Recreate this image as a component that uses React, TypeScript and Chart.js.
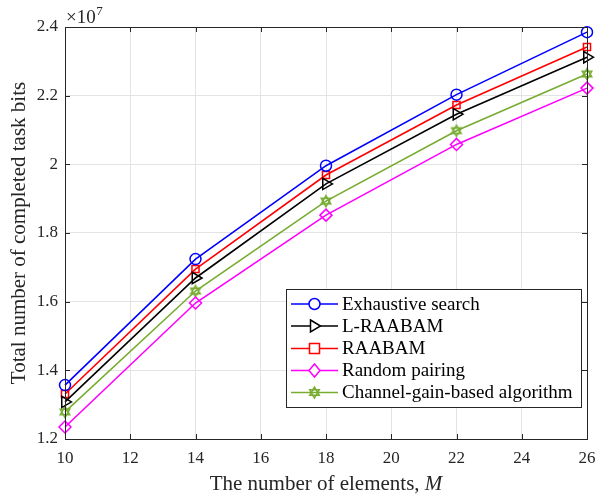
import React, { useEffect, useRef } from "react";
import { Chart, registerables } from "chart.js";
Chart.register(...registerables);

// Data (values in units of 10^7 bits)
const elements = [10, 14, 18, 22, 26];
const exhaustive = [1.357, 1.724, 1.996, 2.203, 2.385];
const lRaabam = [1.308, 1.669, 1.943, 2.146, 2.312];
const raabam = [1.331, 1.695, 1.969, 2.173, 2.342];
const randomPairing = [1.235, 1.596, 1.852, 2.058, 2.222];
const channelGain = [1.279, 1.631, 1.893, 2.098, 2.263];
const seriesNames = [
  "Exhaustive search",
  "L-RAABAM",
  "RAABAM",
  "Random pairing",
  "Channel-gain-based algorithm",
];
const xTickValues = [10, 12, 14, 16, 18, 20, 22, 24, 26];
const yTickValues = [1.2, 1.4, 1.6, 1.8, 2.0, 2.2, 2.4];
const exponent = "7";
const xTitle = "The number of elements, ";
const xTitleItalic = "M";
const yTitle = "Total number of completed task bits";

const FONT = "'Liberation Serif', 'Times New Roman', serif";
const GREEN = "#77ac30";

function drawHexagram(ctx: CanvasRenderingContext2D, cx: number, cy: number, r: number, color: string) {
  ctx.save();
  ctx.strokeStyle = color;
  ctx.lineWidth = 1.5;
  for (let k = 0; k < 2; k++) {
    ctx.beginPath();
    for (let i = 0; i < 3; i++) {
      const a = -Math.PI / 2 + k * Math.PI + (i * 2 * Math.PI) / 3;
      const px = cx + r * Math.cos(a);
      const py = cy + r * Math.sin(a);
      if (i === 0) ctx.moveTo(px, py);
      else ctx.lineTo(px, py);
    }
    ctx.closePath();
    ctx.stroke();
  }
  ctx.restore();
}

function makeHexCanvas() {
  const c = document.createElement("canvas");
  c.width = 14;
  c.height = 14;
  const ctx = c.getContext("2d")!;
  drawHexagram(ctx, 7, 7, 5.5, GREEN);
  return c;
}

export default function App() {
  const ref = useRef<HTMLCanvasElement | null>(null);

  useEffect(() => {
    document.body.style.margin = "0";
    const hex = makeHexCanvas();
    const pts = (arr: number[]) => elements.map((x, i) => ({ x, y: arr[i] }));
    const styles = [
      { color: "#0000ff", pointStyle: "circle", radius: 5.5, rotation: 0 },
      { color: "#000000", pointStyle: "triangle", radius: 6.5, rotation: 90 },
      { color: "#ff0000", pointStyle: "rect", radius: 5, rotation: 0 },
      { color: "#ff00ff", pointStyle: "rectRot", radius: 6, rotation: 0 },
      { color: GREEN, pointStyle: hex, radius: 6, rotation: 0 },
    ];
    const datasetsRaw = [exhaustive, lRaabam, raabam, randomPairing, channelGain];

    const framePlugin = {
      id: "frame",
      afterDraw(chart: any) {
        const { ctx, chartArea: a, scales } = chart;
        ctx.save();
        ctx.strokeStyle = "#262626";
        ctx.lineWidth = 1;
        ctx.strokeRect(Math.round(a.left) + 0.5, Math.round(a.top) + 0.5, Math.round(a.right - a.left), Math.round(a.bottom - a.top));
        ctx.beginPath();
        const tl = 5;
        xTickValues.forEach((v) => {
          const x = Math.round(scales.x.getPixelForValue(v)) + 0.5;
          ctx.moveTo(x, a.bottom);
          ctx.lineTo(x, a.bottom - tl);
          ctx.moveTo(x, a.top);
          ctx.lineTo(x, a.top + tl);
        });
        yTickValues.forEach((v) => {
          const y = Math.round(scales.y.getPixelForValue(v)) + 0.5;
          ctx.moveTo(a.left, y);
          ctx.lineTo(a.left + tl, y);
          ctx.moveTo(a.right, y);
          ctx.lineTo(a.right - tl, y);
        });
        ctx.stroke();

        // exponent
        ctx.fillStyle = "#262626";
        ctx.textBaseline = "alphabetic";
        ctx.textAlign = "left";
        ctx.font = `19px ${FONT}`;
        const base = "\u00d710";
        ctx.fillText(base, a.left + 1, a.top - 4);
        const w = ctx.measureText(base).width;
        ctx.font = `13px ${FONT}`;
        ctx.fillText(exponent, a.left + 1 + w + 0.5, a.top - 12);

        // x title
        ctx.fillStyle = "#262626";
        ctx.font = `21px ${FONT}`;
        const w1 = ctx.measureText(xTitle).width;
        ctx.font = `italic 21px ${FONT}`;
        const w2 = ctx.measureText(xTitleItalic).width;
        const cx = (a.left + a.right) / 2;
        const sx = cx - (w1 + w2) / 2;
        ctx.font = `21px ${FONT}`;
        ctx.fillText(xTitle, sx, 490);
        ctx.font = `italic 21px ${FONT}`;
        ctx.fillText(xTitleItalic, sx + w1, 490);

        // y title
        ctx.save();
        ctx.translate(25, (a.top + a.bottom) / 2);
        ctx.rotate(-Math.PI / 2);
        ctx.textAlign = "center";
        ctx.font = `21px ${FONT}`;
        ctx.fillText(yTitle, 0, 0);
        ctx.restore();

        // legend
        const lx = 286, ly = 289, lw = 295, lh = 118;
        ctx.fillStyle = "#ffffff";
        ctx.fillRect(lx, ly, lw, lh);
        ctx.strokeStyle = "#262626";
        ctx.lineWidth = 1;
        ctx.strokeRect(lx + 0.5, ly + 0.5, lw, lh);
        const rowY = [304, 326, 348.5, 370.5, 392.5];
        seriesNames.forEach((name, i) => {
          const s = styles[i];
          const y = rowY[i];
          ctx.strokeStyle = s.color;
          ctx.lineWidth = 1.5;
          ctx.beginPath();
          ctx.moveTo(291, y);
          ctx.lineTo(338, y);
          ctx.stroke();
          const mx = 314.5;
          ctx.fillStyle = "#ffffff";
          ctx.beginPath();
          if (i === 0) {
            ctx.arc(mx, y, 5.5, 0, Math.PI * 2);
            ctx.fill();
            ctx.stroke();
          } else if (i === 1) {
            ctx.moveTo(mx - 4, y - 6);
            ctx.lineTo(mx + 6, y);
            ctx.lineTo(mx - 4, y + 6);
            ctx.closePath();
            ctx.fill();
            ctx.stroke();
          } else if (i === 2) {
            ctx.rect(mx - 5, y - 5, 10, 10);
            ctx.fill();
            ctx.stroke();
          } else if (i === 3) {
            ctx.moveTo(mx, y - 6.5);
            ctx.lineTo(mx + 5.5, y);
            ctx.lineTo(mx, y + 6.5);
            ctx.lineTo(mx - 5.5, y);
            ctx.closePath();
            ctx.fill();
            ctx.stroke();
          } else {
            drawHexagram(ctx, mx, y, 5.5, GREEN);
          }
          ctx.fillStyle = "#000000";
          ctx.font = `19px ${FONT}`;
          ctx.textBaseline = "middle";
          ctx.textAlign = "left";
          ctx.fillText(name, 342, y + 1);
        });
        ctx.restore();
      },
    };

    const chart = new Chart(ref.current!, {
      type: "line",
      data: {
        datasets: datasetsRaw.map((arr, i) => ({
          label: seriesNames[i],
          data: pts(arr),
          borderColor: styles[i].color,
          backgroundColor: "rgba(255,255,255,0)",
          borderWidth: 1.6,
          pointStyle: styles[i].pointStyle as any,
          pointRadius: styles[i].radius,
          pointRotation: styles[i].rotation,
          pointBorderWidth: 1.5,
          pointBorderColor: styles[i].color,
          pointBackgroundColor: "rgba(255,255,255,0)",
          tension: 0,
          fill: false,
          clip: false as any,
        })),
      },
      options: {
        responsive: false,
        animation: false,
        events: [],
        layout: { padding: { left: 0, right: 12, top: 27, bottom: 0 } },
        plugins: {
          legend: { display: false },
          tooltip: { enabled: false },
          title: { display: false },
        },
        scales: {
          x: {
            type: "linear",
            min: 10,
            max: 26,
            afterBuildTicks: (s: any) => {
              s.ticks = xTickValues.map((v) => ({ value: v }));
            },
            afterFit: (s: any) => {
              s.height = 58;
              s.paddingRight = 0;
              s.paddingLeft = 0;
            },
            grid: { color: "#e3e3e3", drawTicks: false, lineWidth: 1 },
            border: { display: false },
            ticks: {
              color: "#262626",
              padding: 9,
              font: { family: FONT, size: 17 },
              callback: (v: any) => String(v),
              maxRotation: 0,
              autoSkip: false,
            },
          },
          y: {
            type: "linear",
            min: 1.2,
            max: 2.4,
            afterBuildTicks: (s: any) => {
              s.ticks = yTickValues.map((v) => ({ value: v }));
            },
            afterFit: (s: any) => {
              s.width = 65;
              s.paddingTop = 0;
              s.paddingBottom = 0;
            },
            grid: { color: "#e3e3e3", drawTicks: false, lineWidth: 1 },
            border: { display: false },
            ticks: {
              color: "#262626",
              padding: 7,
              font: { family: FONT, size: 17 },
              callback: (v: any) => String(Number(Number(v).toFixed(1))),
              autoSkip: false,
            },
          },
        },
      },
      plugins: [framePlugin],
    });
    return () => chart.destroy();
  }, []);

  return <canvas ref={ref} width={599} height={497} style={{ display: "block" }} />;
}
